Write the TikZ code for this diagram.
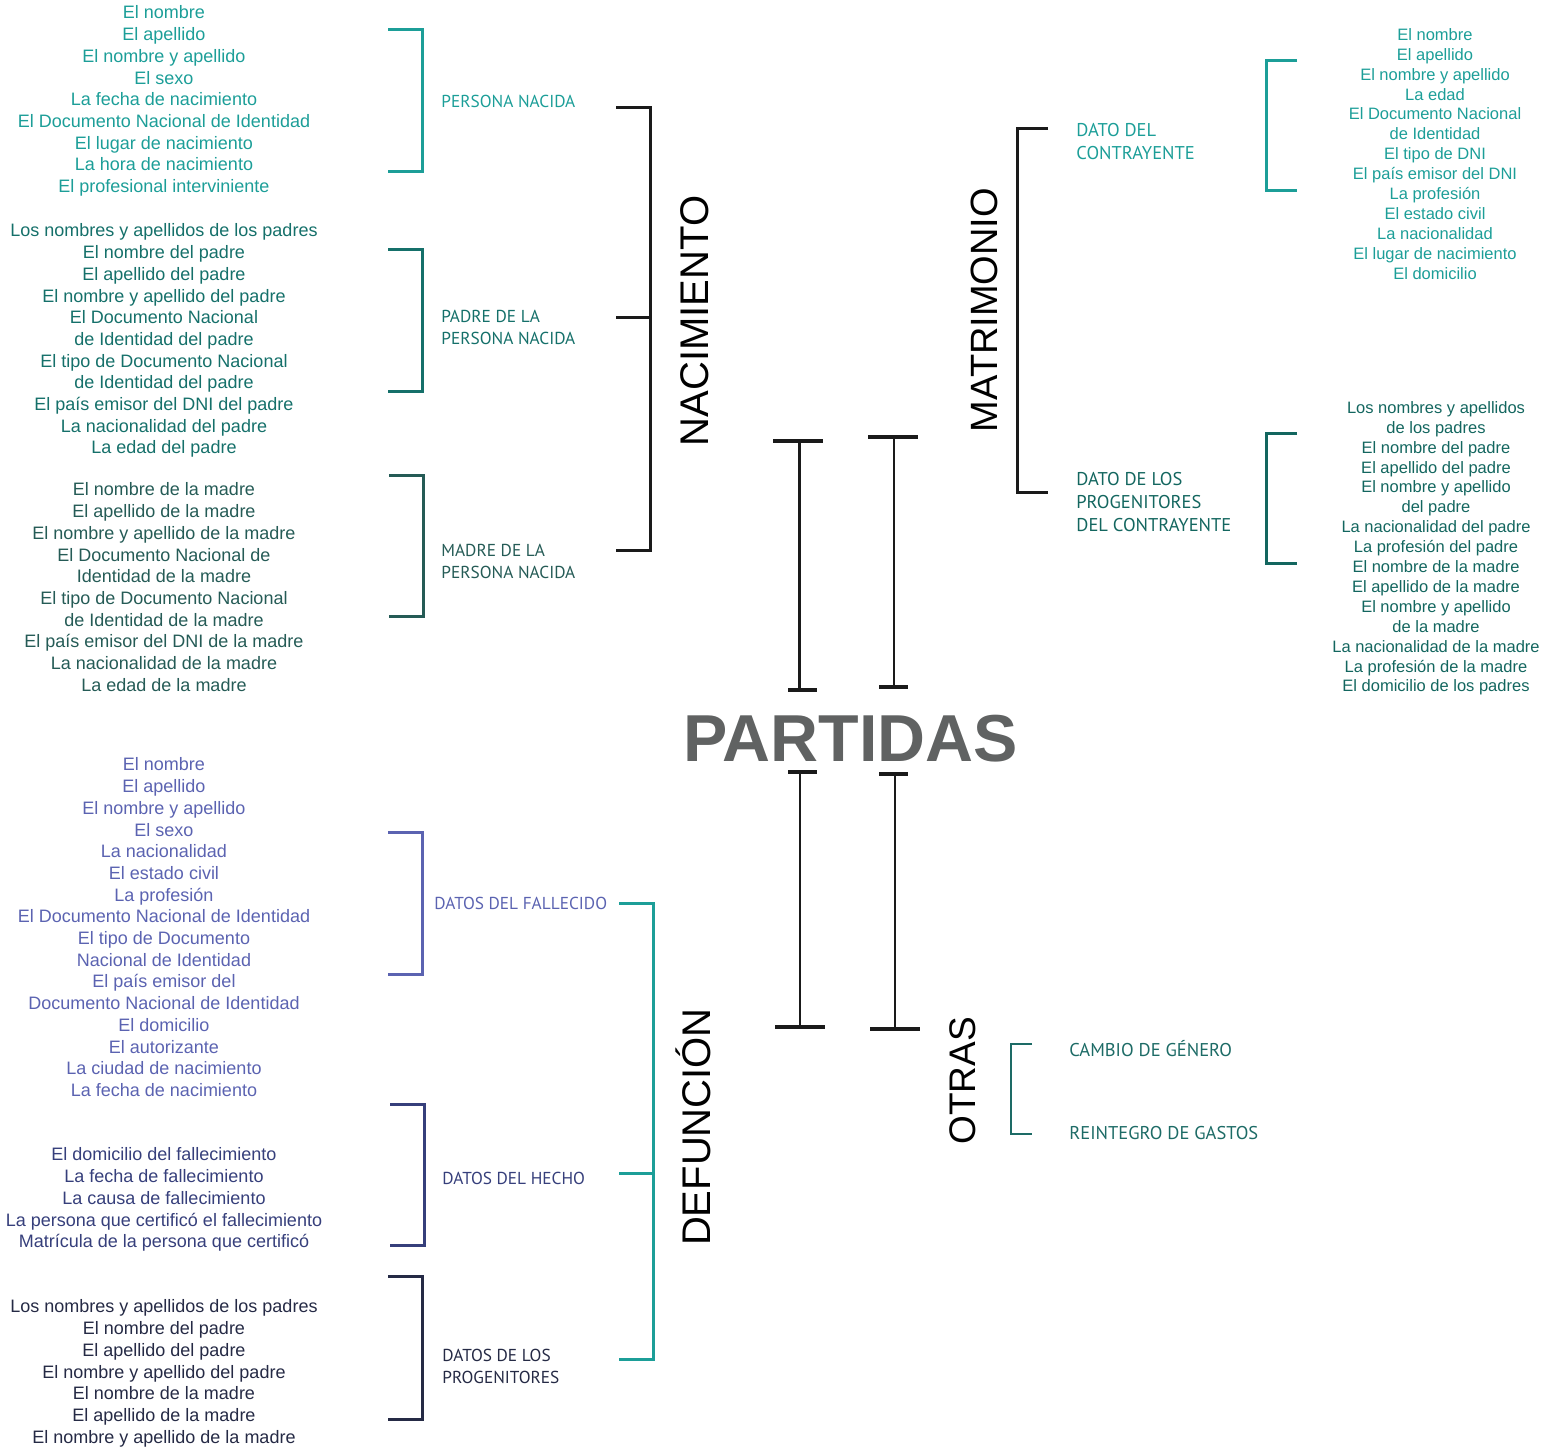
\documentclass[tikz,border=0pt]{standalone}
\usepackage{fontspec}
\setmainfont{Liberation Sans}
\newfontfamily\lblfont{PT Sans}
\definecolor{tealA}{HTML}{1C9E98}
\definecolor{tealB}{HTML}{15706A}
\definecolor{tealC}{HTML}{255B56}
\definecolor{tealD}{HTML}{13665F}
\definecolor{tealE}{HTML}{1D6B66}
\definecolor{violetA}{HTML}{5B63B1}
\definecolor{navyB}{HTML}{363F7B}
\definecolor{navyC}{HTML}{252A45}
\definecolor{grayP}{HTML}{606262}
\definecolor{inkK}{HTML}{1A1A1A}
\begin{document}
\begin{tikzpicture}[x=0.5pt,y=-0.5pt,
  listL/.style={align=center, inner sep=0pt, anchor=north, font=\fontsize{9}{10.85}\selectfont},
  listR/.style={align=center, inner sep=0pt, anchor=north, font=\fontsize{8.25}{9.95}\selectfont},
  lbl/.style={align=left, inner sep=0pt, anchor=north west, font=\lblfont\fontsize{8.65}{11}\selectfont},
  lblB/.style={align=left, inner sep=0pt, anchor=north west, font=\lblfont\fontsize{9.25}{11.5}\selectfont},
  vtitle/.style={rotate=90, anchor=base, inner sep=0pt, font=\fontsize{20}{24}\selectfont, text=black},
  brk/.style={line width=1.5pt, line join=miter, line cap=butt},
  beam/.style={line width=1.25pt, inkK},
  beamcap/.style={line width=1.6pt, inkK}
]
\useasboundingbox (0,0) rectangle (1544,1447);

% ---------- centre title ----------
\node[anchor=base, inner sep=0pt, text=grayP, font=\bfseries\fontsize{33.2}{36}\selectfont] (partidas) at (850.5,761) {PARTIDAS};

% I-beams above and below the title
\draw[beam] (799.5,441) -- (799.5,690);
\draw[beamcap] (773,441) -- (823,441);
\draw[beamcap] (788,690) -- (817,690);
\draw[beam] (894,437) -- (894,687);
\draw[beamcap] (868,437) -- (918,437);
\draw[beamcap] (879,687) -- (908,687);
\draw[beam] (800,772) -- (800,1027);
\draw[beamcap] (788,772) -- (817,772);
\draw[beamcap] (775,1027) -- (825,1027);
\draw[beam] (895,774) -- (895,1029);
\draw[beamcap] (879,774) -- (908,774);
\draw[beamcap] (870,1029) -- (920,1029);

% ---------- NACIMIENTO ----------
\node[vtitle] (nac) at (708,321) {NACIMIENTO};
\draw[brk, inkK] (616,107) -- (650,107) -- (650,550) -- (616,550);
\draw[brk, inkK] (616,317) -- (650,317);

\node[lbl, text=tealA] (persona) at (441,95) {PERSONA NACIDA};
\node[lbl, text=tealB] (padre) at (441,310) {PADRE DE LA\\PERSONA NACIDA};
\node[lbl, text=tealC] (madre) at (441,544) {MADRE DE LA\\PERSONA NACIDA};

\draw[brk, tealA] (388,29) -- (422,29) -- (422,171) -- (388,171);
\draw[brk, tealB] (388,249) -- (422,249) -- (422,391) -- (388,391);
\draw[brk, tealC] (389,475) -- (423,475) -- (423,616) -- (389,616);

\node[listL, text=tealA] (lpersona) at (164,5.5) {El nombre\\El apellido\\El nombre y apellido\\El sexo\\La fecha de nacimiento\\El Documento Nacional de Identidad\\El lugar de nacimiento\\La hora de nacimiento\\El profesional interviniente};
\node[listL, text=tealB] (lpadre) at (164,223.5) {Los nombres y apellidos de los padres\\El nombre del padre\\El apellido del padre\\El nombre y apellido del padre\\El Documento Nacional\\de Identidad del padre\\El tipo de Documento Nacional\\de Identidad del padre\\El país emisor del DNI del padre\\La nacionalidad del padre\\La edad del padre};
\node[listL, text=tealC] (lmadre) at (164,482.5) {El nombre de la madre\\El apellido de la madre\\El nombre y apellido de la madre\\El Documento Nacional de\\Identidad de la madre\\El tipo de Documento Nacional\\de Identidad de la madre\\El país emisor del DNI de la madre\\La nacionalidad de la madre\\La edad de la madre};

% ---------- MATRIMONIO ----------
\node[vtitle, font=\fontsize{19}{23}\selectfont] (mat) at (997,310) {MATRIMONIO};
\draw[brk, inkK] (1048,128) -- (1017,128) -- (1017,492) -- (1048,492);

\node[lblB, text=tealA] (contr) at (1076,123) {DATO DEL\\CONTRAYENTE};
\node[lblB, text=tealD] (progc) at (1076,472) {DATO DE LOS\\PROGENITORES\\DEL CONTRAYENTE};

\draw[brk, tealA] (1297,60) -- (1266,60) -- (1266,190) -- (1297,190);
\draw[brk, tealD] (1297,433) -- (1266,433) -- (1266,563) -- (1297,563);

\node[listR, text=tealA] (lcontr) at (1435,28) {El nombre\\El apellido\\El nombre y apellido\\La edad\\El Documento Nacional\\de Identidad\\El tipo de DNI\\El país emisor del DNI\\La profesión\\El estado civil\\La nacionalidad\\El lugar de nacimiento\\El domicilio};
\node[listR, text=tealD] (lprogc) at (1436,401) {Los nombres y apellidos\\de los padres\\El nombre del padre\\El apellido del padre\\El nombre y apellido\\del padre\\La nacionalidad del padre\\La profesión del padre\\El nombre de la madre\\El apellido de la madre\\El nombre y apellido\\de la madre\\La nacionalidad de la madre\\La profesión de la madre\\El domicilio de los padres};

% ---------- DEFUNCIÓN ----------
\node[vtitle] (def) at (710,1127) {DEFUNCIÓN};
\draw[brk, tealA] (619,903) -- (653,903) -- (653,1359) -- (619,1359);
\draw[brk, tealA] (619,1173) -- (653,1173);

\node[lbl, text=violetA] (fall) at (434,897) {DATOS DEL FALLECIDO};
\node[lbl, text=navyB] (hecho) at (442,1172) {DATOS DEL HECHO};
\node[lbl, text=navyC] (progd) at (442,1349) {DATOS DE LOS\\PROGENITORES};

\draw[brk, violetA] (388,832) -- (422,832) -- (422,974) -- (388,974);
\draw[brk, navyB] (390,1104) -- (424,1104) -- (424,1245) -- (390,1245);
\draw[brk, navyC] (388,1276) -- (422,1276) -- (422,1419) -- (388,1419);

\node[listL, text=violetA] (lfall) at (164,757.5) {El nombre\\El apellido\\El nombre y apellido\\El sexo\\La nacionalidad\\El estado civil\\La profesión\\El Documento Nacional de Identidad\\El tipo de Documento\\Nacional de Identidad\\El país emisor del\\Documento Nacional de Identidad\\El domicilio\\El autorizante\\La ciudad de nacimiento\\La fecha de nacimiento};
\node[listL, text=navyB] (lhecho) at (164,1147.5) {El domicilio del fallecimiento\\La fecha de fallecimiento\\La causa de fallecimiento\\La persona que certificó el fallecimiento\\Matrícula de la persona que certificó};
\node[listL, text=navyC] (lprogd) at (164,1299.5) {Los nombres y apellidos de los padres\\El nombre del padre\\El apellido del padre\\El nombre y apellido del padre\\El nombre de la madre\\El apellido de la madre\\El nombre y apellido de la madre};

% ---------- OTRAS ----------
\node[vtitle, font=\fontsize{18.5}{22}\selectfont] (otras) at (975,1081) {OTRAS};
\draw[line width=1pt, tealE] (1032,1044) -- (1011,1044) -- (1011,1134) -- (1032,1134);
\node[lblB, text=tealE] (genero) at (1069,1040) {CAMBIO DE GÉNERO};
\node[lblB, text=tealE] (gastos) at (1069,1126) {REINTEGRO DE GASTOS};
\end{tikzpicture}
\end{document}
